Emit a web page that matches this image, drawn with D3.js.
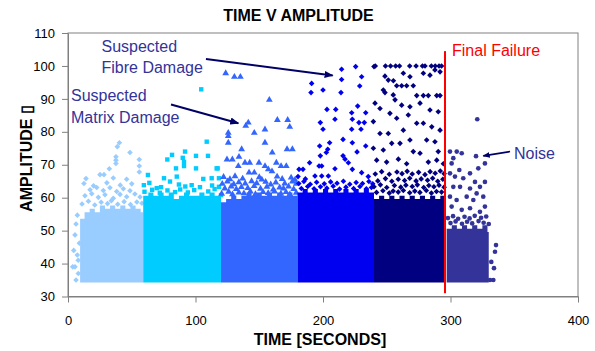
<!DOCTYPE html>
<html><head><meta charset="utf-8">
<script src="https://cdn.jsdelivr.net/npm/d3@7"></script>
<style>
body{margin:0;background:#fff}
text{font-family:Arial,"Liberation Sans",sans-serif}
</style>
</head><body>
<svg id="chart" width="595" height="351"></svg>
<script>
// ---------- data ----------
const xTicks = [0, 100, 200, 300, 400];
const yTicks = [30, 40, 50, 60, 70, 80, 90, 100, 110];
const seriesNames = ["0-60 s", "60-120 s", "120-180 s", "180-240 s", "240-296 s", "296-335 s"];
const coreFloor = 35;
const failureTime = 295.7;

// dense core of each series: [time, top amplitude of dense band]
const s1Core = [[9.5,53],[13,55],[17,56],[21,55],[25,57],[29,56],[33,57],[37,56],[41,57],[45,56],[49,57],[53,56],[57,55],[59,55]];
const s2Core = [[59,60],[63,61],[67,60],[71,61],[75,60],[79,61],[83,59],[87,60],[91,61],[95,60],[99,60],[103,61],[107,60],[111,61],[115,60],[120,60]];
const s3Core = [[120,58],[124,59],[128,60],[132,59],[136,60],[140,61],[144,60],[148,61],[152,60],[156,61],[160,60],[164,61],[168,60],[172,61],[176,60],[180,60]];
const s4Core = [[180,61],[184,62],[188,61],[192,62],[196,61],[200,62],[204,61],[208,62],[212,61],[216,62],[220,61],[224,62],[228,61],[232,62],[236,61],[240,61]];
const s5Core = [[240,59],[244,60],[248,59],[252,60],[256,59],[260,60],[264,59],[268,60],[272,59],[276,60],[280,59],[284,60],[288,59],[292,60],[296,60]];
const s6Core = [[297,50],[301,51],[305,50],[309,51],[313,50],[317,51],[321,50],[325,51],[329,49],[330,49]];

// individual hits above the dense band: [time, amplitude]
const s1Pts = [
[40.3,76.7],[38.7,75.5],[48.6,73.7],[37.6,72.4],[37.6,71.4],[37.6,70.4],[55.9,71.6],[32.4,68.8],[55.9,69.6],[55.9,67.8],[14.1,65.8],[25.1,67.0],[28.2,67.0],[35.5,66.0],[46.0,65.6],
[12.5,64.3],[20,63.6],[30.5,64.5],[41,63.8],[50,64.2],
[17.3,62.4],[22.5,63.1],[27.7,62.2],[32.9,63.0],[38.2,61.9],[43.4,62.7],[48.6,62.1],
[13.3,60.6],[18.6,61.2],[23.8,60.1],[29,60.9],[35.5,59.8],[40.8,61.0],[46,60.3],[52.5,61.1],[56.5,60.2],
[11,58.1],[16,58.9],[21,57.8],[26,58.6],[31,58.2],[34,59.1],[39,58.0],[44,58.8],[49,57.9],[54,58.7],[58,58.3],
[7.3,54.7],[6.3,52],[5.5,48.7],[8.9,46.2],[4.5,44],[7.3,42.6],[8,41],[3.7,39],[5.5,39],[8.1,37],[6.3,35]
];
const s2Pts = [
[104.5,92.9],[108.8,77.0],[91.8,74.0],[81.6,73.0],[100.4,72.7],[90,72.1],[109.8,72.7],[77.9,71.6],[91,70.9],[91,69.6],[84.7,68.9],[100.4,68.9],[116.6,68.9],[117.4,68.9],
[62.7,66.9],[75.3,65.9],[85.3,66.4],[118.4,65.9],[97,63.8],[106.1,65.7],[112.7,65.9],[63.8,64.5],[80,64.9],[103.5,63.2],[118.4,63.3],[69.6,62.9],
[59.5,63.8],[73,63.2],[87,64.0],[92,63.4],[113,63.7],
[60,61.8],[66,62.4],[72,61.5],[78,62.2],[84,61.7],[88,62.5],[94,61.6],[99,62.3],[110,61.9],[115,62.6],[120,60.8]
];
const s3Pts = [
[123.7,97.8],[130.5,96.7],[135.2,96.7],[157.9,89.7],[141.4,82.8],[139.4,81.8],[164.2,83.6],[172.3,83.6],[173.9,81.5],
[125.7,79.7],[125.7,78.7],[125.7,76.7],[146.1,79.7],[154.5,80.7],[154.5,76.7],[136.2,74.7],[160.2,73.7],[171.8,74.7],[176,74.7],
[124.7,71.6],[128.9,71.6],[134.1,72.4],[138.8,70.6],[142.5,70.6],[149.8,70.6],[154.5,69.6],[163.4,70.6],[167.1,69.6],[171.2,69.6],[133.6,69.6],[157.1,68.6],[142,67.6],[146.1,67.6],[160,68],
[122,66.3],[127,65.6],[131,66.5],[137,65.8],[150,66.2],[152,65.5],[164,66.4],[168,65.7],[175,66.1],[178,65.4],
[121,64.2],[125,64.9],[130,64.1],[134,64.7],[139,64.3],[144,65.0],[148,64.4],[155,64.8],[159,64.0],[163,64.6],[170,64.3],[176,64.9],[179,64.2],
[123,62.8],[128,63.4],[132,62.6],[136,63.2],[141,62.9],[146,63.5],[151,62.7],[156,63.3],[161,62.5],[166,63.1],[169,62.8],[173,63.4],[177,62.6],
[120.5,61.2],[126,61.8],[129,61.0],[134,61.6],[138,61.3],[143,61.9],[147,61.1],[153,61.7],[157,61.4],[162,61.9],[167,61.2],[171,61.7],[174,61.0],[179,61.5]
];
const s4Pts = [
[214.6,99.0],[225.6,99.8],[214.6,95.9],[230.3,96.7],[191.1,94.7],[200,92.7],[190.6,91.9],[214.1,91.9],[228.8,93.9],[227.2,87.8],[203.1,86.8],[210,86.8],[222.5,85.8],[233.5,85.8],
[223,83.8],[209.4,83.8],[228.2,82.8],[232.4,82.8],[197.9,82.8],[200,80.8],[222.5,80.8],[229.8,80.8],[215.7,77.7],[205.2,76.7],[223,76.7],[233.5,75.7],[197.4,75.7],
[203.7,74.7],[202.6,73.7],[226.7,73.9],[197.9,72.7],[215.7,72.7],[217.3,71.7],[219.9,70.6],[189.5,70.6],[196.9,69.6],[199,69.6],[209.4,68.8],[181.2,68.6],[184.3,68.6],[223,68.6],
[230.3,67.6],[193.7,66.6],[199,66.6],[204.2,66.6],[180.4,66.4],[186.2,65.7],[235.5,66.4],
[181,64.3],[185,64.9],[190,64.1],[195,64.7],[201,64.2],[206,64.8],[211,64.4],[216,65.0],[221,64.1],[226,64.6],[231,64.3],[236,64.9],[239,64.2],
[183,62.8],[188,63.4],[193,62.7],[198,63.3],[203,62.9],[208,63.5],[213,62.6],[218,63.2],[224,62.8],[229,63.4],[234,62.7],[238,63.1]
];
const s5Pts = [
[240,99.8],[241,100],[249,100],[253,100],[257,100],[260,100],[268,100],[273,100],[278,100],[280,100],[285,100],[288,100],[291,100],[293,100],
[248.6,96.9],[251.2,95.7],[255.2,95.5],[263,97.8],[268.2,96.7],[278.7,97.8],[283.9,97.2],[287.8,98.8],[291.8,98.2],[257.8,94],[261.7,94],[265.6,94],[270.8,94],
[247.3,92.7],[248.6,91.9],[255.1,91.2],[256.5,89.7],[273.5,91],[278.7,91],[282.6,91],[289.2,91],[291.8,91],[240.8,88.7],[244.7,87.1],[239.5,83.1],
[261.7,88.1],[268.2,87.6],[276.1,88.7],[283.9,86.6],[290.4,86.1],[252.5,85.6],[257.8,84.1],[266.9,85.1],[273.5,82.6],[278.7,82.6],[285.3,81.5],[291.8,80.5],
[244.7,79.5],[251.2,79.5],[263,80.5],[253.9,76.5],[260.4,76.5],[268.2,77.5],[281.3,77.5],[287.8,77],[239.5,75],[247.3,74.5],[270.8,74],[276.1,73.5],[290.4,74],
[242.1,71.4],[249.9,70.8],[259.1,71.7],[265.6,70.3],[282.6,70.8],[289.2,71.4],[294.4,70.3],
[241,67.2],[246,67.9],[252,67.1],[258,67.8],[262,67.3],[266,68.0],[270,67.2],[275,67.7],[280,67.0],[284,67.9],[288,67.4],[292,68.1],[295,67.3],
[243,65.1],[249,65.8],[254,65.0],[259,65.6],[264,65.2],[268,65.9],[273,65.1],[277,65.7],[282,65.3],[286,65.9],[290,65.0],[294,65.6],
[240,63.3],[245,63.9],[250,63.1],[256,63.7],[261,63.2],[265,63.8],[270,63.4],[274,63.9],[279,63.1],[283,63.7],[287,63.3],[291,63.8],[295,63.2],
[242,61.6],[247,62.1],[252,61.4],[255,62.0],[259,61.7],[263,62.2],[268,61.5],[272,62.0],[276,61.6],[281,62.2],[285,61.4],[289,61.9],[293,61.7]
];
const s6Pts = [
[321,83.8],[320,72.6],[299.6,74],[304.9,74],[308.8,73.5],[327,70.4],[302.2,72],[300.9,70.4],[321.8,68.9],[306.9,68.4],[315.3,67.4],[299.6,67.4],[303.5,66.4],
[310,65.9],[319.2,64.8],[323.1,63.3],[327,64.8],[302.2,63.3],[307.5,63.3],[315.3,62.8],[320.5,61.3],[299.6,60.3],[304.8,59.3],[312.7,60.3],[317.9,59.3],[325.7,60.3],
[300.9,57.3],[308.8,56.3],[315.3,56.8],[323.1,55.7],[327,57.3],
[298,53.8],[302,54.4],[306,53.6],[311,54.2],[315,53.7],[319,54.5],[324,53.9],[328,54.3],
[300,52.3],[304,52.8],[309,52.1],[313,52.7],[317,52.2],[322,52.9],[326,52.4],[330,52.0],
[335.7,45.6],[334.9,43.6],[334.1,38.6],[333.6,35],[331,35],[332,40.5]
];

// ---------- styling ----------
const seriesColors = ["#99CCFF", "#00CCFF", "#3366FF", "#0000F0", "#000080", "#333399"];
const seriesShapes = ["diamond", "square", "triangle", "diamond", "diamond", "circle"];
const cores = [s1Core, s2Core, s3Core, s4Core, s5Core, s6Core];
const points = [s1Pts, s2Pts, s3Pts, s4Pts, s5Pts, s6Pts];
const series = seriesNames.map((n, i) => ({name: n, core: cores[i], pts: points[i], color: seriesColors[i], shape: seriesShapes[i]}));

const svg = d3.select("#chart");
const x = d3.scaleLinear().domain([0, 400]).range([68, 578]);
const y = d3.scaleLinear().domain([30, 110]).range([296.5, 33]);

function shapePath(shape) {
  if (shape === "diamond") return "M0,-2.8L2.8,0L0,2.8L-2.8,0Z";
  if (shape === "square") return "M-2.2,-2.2H2.2V2.2H-2.2Z";
  if (shape === "triangle") return d3.symbol(d3.symbolTriangle, 20)();
  return d3.symbol(d3.symbolCircle, 17)();
}

const area = d3.area()
  .curve(d3.curveStepAfter)
  .x(d => x(d[0]))
  .y0(() => y(coreFloor) + 2.5)
  .y1(d => y(d[1]) - 2);

const g = svg.append("g");
series.forEach(s => {
  g.append("path").datum(s.core).attr("d", area).attr("fill", s.color);
  g.append("g").selectAll("path").data(s.pts).join("path")
    .attr("transform", d => `translate(${x(d[0])},${y(d[1])})`)
    .attr("d", shapePath(s.shape))
    .attr("fill", s.color);
});

svg.append("rect").attr("x", x(0)).attr("y", y(110)).attr("width", x(400) - x(0)).attr("height", y(30) - y(110))
  .attr("fill", "none").attr("stroke", "#808080").attr("stroke-width", 1);

const yAxis = d3.axisLeft(y).tickValues(yTicks).tickSize(6).tickPadding(7).tickSizeOuter(0);
const xAxis = d3.axisBottom(x).tickValues(xTicks).tickSize(6).tickPadding(13).tickSizeOuter(0);
const ya = svg.append("g").attr("transform", `translate(${x(0)},0)`).call(yAxis);
const xa = svg.append("g").attr("transform", `translate(0,${y(30)})`).call(xAxis);
[ya, xa].forEach(a => {
  a.select(".domain").attr("stroke", "#808080");
  a.selectAll(".tick line").attr("stroke", "#808080");
  a.selectAll(".tick text").attr("font-family", "Arial, 'Liberation Sans', sans-serif").attr("font-size", 13).attr("fill", "#000");
});

svg.append("line").attr("x1", x(failureTime)).attr("x2", x(failureTime)).attr("y1", y(104.5)).attr("y2", y(31))
  .attr("stroke", "#FF0000").attr("stroke-width", 2);

const defs = svg.append("defs");
defs.append("marker").attr("id", "ah").attr("viewBox", "0 0 10 10").attr("refX", 9).attr("refY", 5)
  .attr("markerWidth", 4.5).attr("markerHeight", 4.5).attr("orient", "auto").attr("markerUnits", "strokeWidth")
  .append("path").attr("d", "M0,1L10,5L0,9Z").attr("fill", "#000066");

function arrow(t0, a0, t1, a1, w) {
  svg.append("line").attr("x1", x(t0)).attr("y1", y(a0)).attr("x2", x(t1)).attr("y2", y(a1))
    .attr("stroke", "#000066").attr("stroke-width", w).attr("marker-end", "url(#ah)");
}
arrow(108.2, 102.1, 207.6, 97.1, 2);
arrow(80.8, 88.3, 133.6, 82.6, 2);
arrow(346.7, 74.0, 325.7, 72.7, 1.6);

const ann = [
  {t: "Suspected", px: 101.5, py: 51.5, c: "#333399"},
  {t: "Fibre Damage", px: 101.5, py: 73, c: "#333399"},
  {t: "Suspected", px: 71, py: 101, c: "#333399"},
  {t: "Matrix Damage", px: 71, py: 122.5, c: "#333399"},
  {t: "Final Failure", px: 452, py: 56, c: "#FF0000"},
  {t: "Noise", px: 514, py: 158.5, c: "#333399"}
];
svg.append("g").selectAll("text").data(ann).join("text")
  .attr("x", d => d.px).attr("y", d => d.py).attr("fill", d => d.c).attr("font-size", 16).text(d => d.t);

svg.append("text").attr("x", 298.5).attr("y", 21).attr("text-anchor", "middle")
  .attr("font-size", 16).attr("font-weight", "bold").text("TIME V AMPLITUDE");
svg.append("text").attr("x", 320).attr("y", 345).attr("text-anchor", "middle")
  .attr("font-size", 16).attr("font-weight", "bold").text("TIME [SECONDS]");
svg.append("text").attr("transform", "translate(32,158.5) rotate(-90)").attr("text-anchor", "middle")
  .attr("font-size", 16).attr("font-weight", "bold").text("AMPLITUDE \u25AF");
</script>
</body></html>
